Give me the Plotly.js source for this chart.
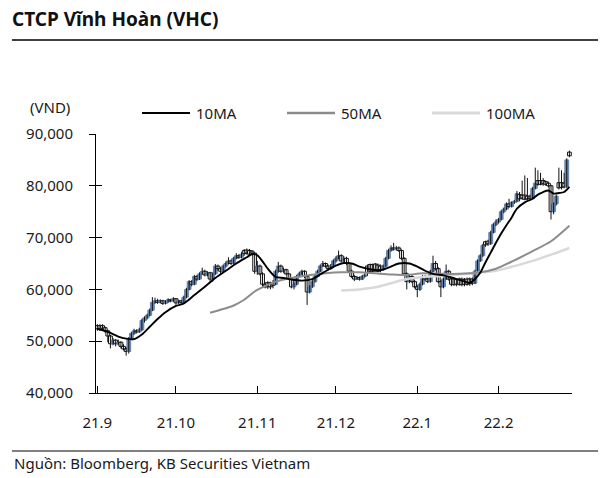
<!DOCTYPE html>
<html>
<head>
<meta charset="utf-8">
<script src="https://cdn.plot.ly/plotly-3.0.1.min.js"></script>
<style>html,body{margin:0;padding:0;background:#fff;}#chart{width:611px;height:478px;}</style>
</head>
<body>
<div id="chart"></div>
<script>
// ---- data (VND) ----
const dates = [
"2021-09-01","2021-09-02","2021-09-03","2021-09-04","2021-09-05","2021-09-06","2021-09-07","2021-09-08","2021-09-09","2021-09-10",
"2021-09-11","2021-09-12","2021-09-13","2021-09-14","2021-09-15","2021-09-16","2021-09-17","2021-09-18","2021-09-19","2021-09-20",
"2021-09-21","2021-09-22","2021-09-23","2021-09-24","2021-09-25","2021-09-26","2021-09-27","2021-09-28","2021-09-29","2021-09-30",
"2021-10-01","2021-10-02","2021-10-03","2021-10-04","2021-10-05","2021-10-06","2021-10-07","2021-10-08","2021-10-09","2021-10-10",
"2021-10-11","2021-10-12","2021-10-13","2021-10-14","2021-10-15","2021-10-16","2021-10-17","2021-10-18","2021-10-19","2021-10-20",
"2021-10-21","2021-10-22","2021-10-23","2021-10-24","2021-10-25","2021-10-26","2021-10-27","2021-10-28","2021-10-29","2021-10-30",
"2021-10-31","2021-11-01","2021-11-02","2021-11-03","2021-11-04","2021-11-05","2021-11-06","2021-11-07","2021-11-08","2021-11-09",
"2021-11-10","2021-11-11","2021-11-12","2021-11-13","2021-11-14","2021-11-15","2021-11-16","2021-11-17","2021-11-18","2021-11-19",
"2021-11-20","2021-11-21","2021-11-22","2021-11-23","2021-11-24","2021-11-25","2021-11-26","2021-11-27","2021-11-28","2021-11-29",
"2021-11-30","2021-12-01","2021-12-02","2021-12-03","2021-12-04","2021-12-05","2021-12-06","2021-12-07","2021-12-08","2021-12-09",
"2021-12-10","2021-12-11","2021-12-12","2021-12-13","2021-12-14","2021-12-15","2021-12-16","2021-12-17","2021-12-18","2021-12-19",
"2021-12-20","2021-12-21","2021-12-22","2021-12-23","2021-12-24","2021-12-25","2021-12-26","2021-12-27","2021-12-28","2021-12-29",
"2021-12-30","2021-12-31","2022-01-01","2022-01-02","2022-01-03","2022-01-04","2022-01-05","2022-01-06","2022-01-07","2022-01-08",
"2022-01-09","2022-01-10","2022-01-11","2022-01-12","2022-01-13","2022-01-14","2022-01-15","2022-01-16","2022-01-17","2022-01-18",
"2022-01-19","2022-01-20","2022-01-21","2022-01-22","2022-01-23","2022-01-24","2022-01-25","2022-01-26","2022-01-27","2022-01-28",
"2022-01-29","2022-01-30","2022-01-31","2022-02-01","2022-02-02","2022-02-03","2022-02-04","2022-02-05","2022-02-06","2022-02-07",
"2022-02-08","2022-02-09","2022-02-10","2022-02-11","2022-02-12","2022-02-13","2022-02-14","2022-02-15","2022-02-16","2022-02-17",
"2022-02-18","2022-02-19","2022-02-20","2022-02-21","2022-02-22","2022-02-23","2022-02-24","2022-02-25","2022-02-26","2022-02-27",
"2022-02-28"];

const opens = [
53000,53000,53000,52600,52000,51000,49500,50200,49500,49800,
49000,48500,48000,50500,51500,52000,51800,52200,54000,54500,
55000,56000,57500,57800,57500,57800,57300,57600,58000,57800,
58200,57400,57800,57500,58500,60000,61500,61000,62500,62000,
63000,63500,62800,63200,62000,63000,64500,64000,63500,64500,
65000,65500,65000,66000,66500,66200,67500,67600,67500,67400,
67000,63500,64500,63000,61000,61300,61200,61300,61000,63500,
64500,63500,63800,63000,62000,60500,61000,62500,63000,63500,
62500,59500,60500,61500,62500,63500,64500,65000,64500,64000,
64500,65500,66000,66500,65500,66000,65000,63500,62500,62000,
62300,62000,62500,64500,64800,64800,64900,64700,64500,63800,
64500,66000,67500,68000,67800,68000,67500,66000,63000,61500,
62500,61500,60500,60000,61000,62500,62000,61500,63500,65000,
64000,61500,60500,62000,63500,62000,62000,61900,62000,62000,
61900,62000,62000,62000,61200,63500,65500,66500,69200,69300,
68800,71000,72500,73000,73500,75000,75500,76500,76000,76800,
77000,78300,78200,78200,78000,78000,77600,79500,81000,81000,
81000,80800,80500,80000,75000,76500,80600,80600,80500,79800,
86500];

const highs = [
53300,53300,53300,52800,52200,51200,50600,50400,50300,50000,
49400,48800,50800,51800,52400,52300,52600,54300,54800,55300,
56300,58500,58400,58200,58100,58000,57900,58300,58200,58500,
58300,58000,58000,58800,60300,61800,61800,62800,62800,63300,
64200,63800,63500,63400,63300,64900,64800,64300,64800,65400,
66200,65800,66300,67000,66800,67200,67800,67900,67800,67600,
67200,65500,64800,63300,61400,61600,61500,61800,63800,65300,
64800,64200,64000,63200,62300,61300,62800,63400,63800,63700,
62800,60800,61800,62800,63800,64800,65500,65200,64800,64900,
65800,66400,67500,66800,66400,66300,65300,63800,62800,62600,
62500,62800,63100,64800,65000,65000,65100,65000,64800,64800,
66300,67800,68500,69000,68400,68300,67700,66200,63300,62800,
62800,61800,60800,61300,62800,62800,62300,63800,66500,65500,
64300,61800,62300,64800,63800,62300,62300,62200,62300,62300,
62200,62300,62300,62300,63800,65800,66800,68800,69400,69600,
71300,72800,73500,73800,75300,75800,76800,77500,77000,77300,
79000,78800,81000,82000,81500,78300,79800,83500,83000,82500,
81500,81000,80800,80200,76800,78300,83500,83000,82500,85300,
86800];

const lows = [
52000,52000,52100,51600,49800,48600,49200,49000,49200,48600,
48200,47200,47600,50200,51200,51500,51600,52000,53600,54200,
54800,55800,57200,57200,57300,57000,57100,57400,57500,57600,
57000,57200,57200,57300,58300,59800,60600,60800,61600,61800,
62800,62500,62500,61200,61500,62800,63600,63000,63300,64200,
64800,64700,64800,65800,65900,66000,66500,66700,66400,66500,
63000,62800,62700,60500,60200,60100,60000,60200,60800,63200,
63200,63200,62800,61800,60200,60000,60800,62300,62800,62200,
57000,59200,60300,61300,62300,63300,64300,64200,63600,63800,
64300,65200,65800,65200,65300,64700,63200,62200,61600,61800,
61700,61800,62300,62600,63300,63300,63400,63300,63300,63600,
64300,65800,67300,67500,67500,67200,65700,62700,60000,61200,
61200,60200,58500,59700,60800,61700,61200,61300,63300,63700,
61200,58500,60200,61800,61700,60600,60700,60600,60700,60600,
60600,60700,60700,60800,61000,63300,65300,66300,68200,68400,
68600,70800,72200,72700,73300,74700,75300,75700,75800,76500,
76800,77000,77300,77200,77200,77200,77400,79300,80000,80100,
80000,80000,79700,73500,74500,76200,79300,79300,79500,79600,
85500];

const closes = [
52400,52300,52500,52000,51000,49500,50200,49500,49800,49000,
48500,48000,50500,51500,52000,51800,52200,54000,54500,55000,
56000,57500,57800,57500,57800,57300,57600,58000,57800,58200,
57400,57800,57500,58500,60000,61500,61000,62500,62000,63000,
63500,62800,63200,62000,63000,64500,64000,63500,64500,65000,
65500,65000,66000,66500,66200,66800,66900,67000,66800,67000,
63500,64500,63000,61000,60500,60500,60500,60800,63500,64500,
63500,63800,63000,62000,60500,61000,62500,63000,63500,62500,
59500,60500,61500,62500,63500,64500,65000,64500,64000,64500,
65500,66000,66500,65500,66000,65000,63500,62500,62000,62300,
62000,62500,62800,63200,63500,63500,63600,63500,63800,64500,
66000,67500,68000,67800,68000,67500,66000,63000,61500,62500,
61500,60500,60000,61000,62500,62000,61500,63500,65000,64000,
61500,60500,62000,63500,62000,61000,60900,61000,61000,60900,
61000,61000,61100,61200,63500,65500,66500,68500,68600,68800,
71000,72500,73000,73500,75000,75500,76500,76000,76800,77000,
78500,77500,77600,77400,77500,77600,79500,80500,80300,80300,
80400,80300,80000,75000,76500,78000,79600,79700,79800,85000,
85800];

const ma10Dates = ["2021-09-01","2021-09-05","2021-09-09","2021-09-12","2021-09-15","2021-09-18","2021-09-21","2021-09-24","2021-09-27",
"2021-10-01","2021-10-04","2021-10-08","2021-10-12","2021-10-16","2021-10-20","2021-10-24","2021-10-28","2021-10-30",
"2021-11-01","2021-11-03","2021-11-05","2021-11-08","2021-11-11","2021-11-14","2021-11-18","2021-11-22","2021-11-25","2021-11-28",
"2021-12-01","2021-12-04","2021-12-07","2021-12-10","2021-12-14","2021-12-18","2021-12-21","2021-12-25","2021-12-29",
"2022-01-01","2022-01-04","2022-01-07","2022-01-11","2022-01-14","2022-01-18","2022-01-21","2022-01-23","2022-01-25","2022-01-27","2022-01-29","2022-01-31",
"2022-02-02","2022-02-04","2022-02-06","2022-02-08","2022-02-11","2022-02-14","2022-02-16","2022-02-18","2022-02-20","2022-02-22","2022-02-24","2022-02-26","2022-02-28"];
const ma10 = [52400,51800,50900,50500,50400,51300,52800,54300,55600,
56800,57300,58900,60500,62200,63600,65000,66200,66800,
66600,65400,64000,62400,62200,61900,61700,62000,62900,63800,
64600,65100,65000,64400,63900,63700,64200,65000,65000,
64400,63600,63000,62700,62300,61700,61300,62000,63200,65200,67100,69000,
70800,72400,73900,75600,76800,77500,78300,78800,79100,78500,78600,78800,79800];

const ma50Dates = ["2021-10-14","2021-10-19","2021-10-23","2021-10-27","2021-10-31","2021-11-03","2021-11-08","2021-11-14","2021-11-20","2021-11-27",
"2021-12-03","2021-12-10","2021-12-16","2021-12-22","2021-12-28","2022-01-03","2022-01-10","2022-01-17","2022-01-24","2022-01-31",
"2022-02-07","2022-02-14","2022-02-21","2022-02-28"];
const ma50 = [55500,56200,56900,58000,59600,60400,61500,62200,62700,63100,
63300,63300,63100,62900,62800,63100,63000,63000,63200,64000,
65600,67400,69300,72300];

const ma100Dates = ["2021-12-03","2021-12-10","2021-12-16","2021-12-22","2021-12-28","2022-01-03","2022-01-10","2022-01-17","2022-01-24","2022-01-31",
"2022-02-07","2022-02-14","2022-02-21","2022-02-28"];
const ma100 = [59800,60000,60400,61200,62000,62400,62600,62900,63200,63600,
64500,65500,66700,68000];

const seriesNames = ["10MA","50MA","100MA"];
const seriesColors = ["#000000","#8c8c8c","#d9d9d9"];
const seriesWidths = [1.9, 2, 2.5];

const monthTicks = ["2021-09-01","2021-10-01","2021-11-01","2021-12-01","2022-01-01","2022-02-01","2022-03-01"];
const monthLabels = ["21.9","21.10","21.11","21.12","22.1","22.2",""];
const yTicks = [40000,50000,60000,70000,80000,90000];

// ---- traces ----
const UP = '#6585b0';
const up = opens.map((o,i)=>closes[i] >= o);
const bodyLow = opens.map((o,i)=>Math.min(o,closes[i]));
const bodySize = opens.map((o,i)=>Math.abs(closes[i]-o));

const wicks = {
  type:'ohlc', x:dates, open:opens, high:highs, low:lows, close:closes,
  tickwidth:0, showlegend:false, hoverinfo:'skip',
  increasing:{line:{color:'#111',width:1}}, decreasing:{line:{color:'#111',width:1}}
};
const bodies = {
  type:'bar', x:dates, y:bodySize, base:bodyLow, width:86400000*1.45,
  showlegend:false, hoverinfo:'skip',
  marker:{color:up.map(u=>u?UP:'#ffffff'), line:{color:up.map(u=>u?UP:'#111'), width:1}}
};
const maX = [ma10Dates, ma50Dates, ma100Dates];
const maY = [ma10, ma50, ma100];
const maTraces = [2,1,0].map(i => ({
  type:'scatter', mode:'lines', name:seriesNames[i], x:maX[i], y:maY[i], showlegend:false,
  line:{color:seriesColors[i], width:seriesWidths[i], shape:'spline', smoothing:0.8}
}));
const dummy = {type:'scatter', x:[], y:[], yaxis:'y2', showlegend:false, hoverinfo:'skip'};

const W = 476, H = 259, L = 96, B = 393;
const px = v => (v - L) / W;
const py = v => (B - v) / H;

// custom legend (line sample + label)
const legendStarts = [142, 287, 432];
const legendShapes = seriesNames.map((n,i)=>({type:'line', xref:'paper', yref:'paper',
  x0:px(legendStarts[i]), x1:px(legendStarts[i]+48), y0:py(113), y1:py(113),
  line:{color:seriesColors[i], width:seriesWidths[i]+0.3}}));
const legendTexts = seriesNames.map((n,i)=>({text:n, xref:'paper', yref:'paper',
  x:px(legendStarts[i]+52), y:py(113), xanchor:'left', yanchor:'middle', showarrow:false,
  font:{size:15, color:'#1a1a1a'}}));

const layout = {
  width:611, height:478,
  margin:{l:96, r:39, t:134, b:85, autoexpand:false},
  paper_bgcolor:'#ffffff', plot_bgcolor:'#ffffff',
  font:{family:'Noto Sans, sans-serif', size:15, color:'#1a1a1a'},
  title:{text:'<b>CTCP Vĩnh Hoàn (VHC)</b>', xref:'container', yref:'container',
    x:12/611, xanchor:'left', y:1-19/478, yanchor:'middle',
    font:{family:'Noto Sans, sans-serif', size:19, color:'#111'}},
  barmode:'overlay',
  showlegend:false,
  xaxis:{type:'date', range:['2021-08-31 12:00','2022-03-01'],
    tickmode:'array', tickvals:monthTicks, ticktext:monthLabels, tickangle:0,
    ticks:'inside', ticklen:7, tickcolor:'#000', tickwidth:1,
    showline:true, linecolor:'#000', linewidth:1,
    showgrid:false, zeroline:false, rangeslider:{visible:false},
    ticklabelstandoff:16, tickfont:{size:15}},
  yaxis:{range:[40000,90000], tickmode:'array', tickvals:yTicks, tickformat:',',
    ticks:'outside', ticklen:6, tickcolor:'#000', tickwidth:1,
    showline:true, linecolor:'#000', linewidth:1,
    showgrid:false, zeroline:false, ticklabelstandoff:13, tickfont:{size:15}},
  yaxis2:{range:[40000,90000], overlaying:'y', side:'left', tickmode:'array', tickvals:yTicks,
    ticks:'inside', ticklen:6, tickcolor:'#000', tickwidth:1, showticklabels:false,
    showline:false, showgrid:false, zeroline:false},
  annotations:[
    {text:'(VND)', xref:'paper', yref:'paper', x:px(50), y:py(107), xanchor:'center', yanchor:'middle',
      showarrow:false, font:{size:15, color:'#1a1a1a'}},
    {text:'Nguồn: Bloomberg, KB Securities Vietnam', xref:'paper', yref:'paper', x:px(12), y:py(463),
      xanchor:'left', yanchor:'middle', showarrow:false, font:{size:15, color:'#1a1a1a'}}
  ].concat(legendTexts),
  shapes:[
    {type:'line', xref:'paper', yref:'paper', x0:px(12), x1:px(598), y0:py(40), y1:py(40), line:{color:'#000', width:1.5}},
    {type:'line', xref:'paper', yref:'paper', x0:px(12), x1:px(598), y0:py(451), y1:py(451), line:{color:'#000', width:1}}
  ].concat(legendShapes)
};

Plotly.newPlot('chart', [wicks, bodies].concat(maTraces, [dummy]), layout, {staticPlot:true, displayModeBar:false});
</script>
</body>
</html>
